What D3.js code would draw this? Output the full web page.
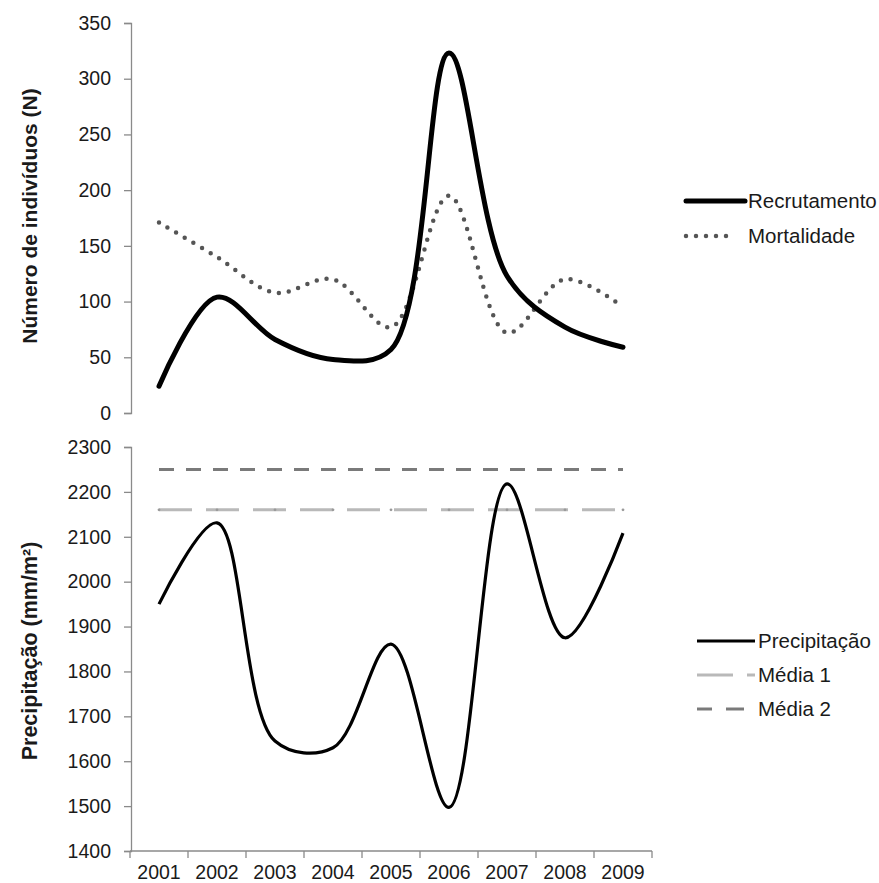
<!DOCTYPE html>
<html><head><meta charset="utf-8">
<script src="https://cdn.jsdelivr.net/npm/d3@7"></script>
<style>
body{margin:0;background:#fff;}
text{font-family:"Liberation Sans",Arial,sans-serif;fill:#1a1a1a;}
</style></head>
<body><svg id="c" width="879" height="883"></svg>
<script>
const years = ["2001","2002","2003","2004","2005","2006","2007","2008","2009"];
const recrutamento = [24,104,66,48,57,323,123,77,59];
const mortalidade = [171,140,108,120,77,195,72,120,95];
const precipitacao = [1950,2131,1645,1630,1861,1497,2218,1875,2108];
const media1 = 2160;
const media2 = 2250;
const topTicks = [0,50,100,150,200,250,300,350];
const bottomTicks = [1400,1500,1600,1700,1800,1900,2000,2100,2200,2300];

const svg = d3.select("#c");
const x = d3.scaleBand().domain(years).range([130,652]);
const cx = d => x(d) + x.bandwidth()/2;
const yTop = d3.scaleLinear().domain([0,350]).range([413,23]);
const yBot = d3.scaleLinear().domain([1400,2300]).range([851,447]);
const curve = d3.curveCatmullRom.alpha(0.5);
const FS = "19.5px";

function styleAxis(g){
  g.selectAll("path,line").attr("stroke","#8a8a8a").attr("stroke-width",1.3);
  g.selectAll("text").attr("font-size",FS).attr("fill","#1a1a1a");
}
// Top y axis
svg.append("g").attr("transform","translate(131,0)")
  .call(d3.axisLeft(yTop).tickValues(topTicks).tickFormat(d3.format("d")).tickSize(7).tickSizeOuter(7).tickPadding(13))
  .call(styleAxis);
// Bottom y axis
svg.append("g").attr("transform","translate(131,0)")
  .call(d3.axisLeft(yBot).tickValues(bottomTicks).tickFormat(d3.format("d")).tickSize(7).tickSizeOuter(7).tickPadding(13))
  .call(styleAxis);
// x axis
const xa = svg.append("g").attr("transform","translate(0,851)")
  .call(d3.axisBottom(x).tickSize(0).tickPadding(14))
  .call(styleAxis);
xa.select(".domain").attr("d","M130,0H652");
xa.selectAll(".bnd").data(years.concat(["end"])).enter().append("line")
  .attr("x1",(d,i)=> i<years.length ? x(d) : 652).attr("x2",(d,i)=> i<years.length ? x(d) : 652)
  .attr("y1",0).attr("y2",7).attr("stroke","#8a8a8a").attr("stroke-width",1.3);

// axis titles
svg.append("text").attr("transform","translate(37,216) rotate(-90)")
  .attr("text-anchor","middle").attr("font-size","21px").attr("font-weight","bold")
  .text("Número de indivíduos (N)");
svg.append("text").attr("transform","translate(37,651) rotate(-90)")
  .attr("text-anchor","middle").attr("font-size","21.5px").attr("font-weight","bold")
  .text("Precipitação (mm/m²)");

// Top lines
const lineTop = d3.line().x((d,i)=>cx(years[i])).y(d=>yTop(d)).curve(curve);
svg.append("path").datum(mortalidade).attr("d",lineTop).attr("fill","none")
  .attr("stroke","#555").attr("stroke-width",4.5).attr("stroke-linecap","round")
  .attr("stroke-dasharray","0,10");
svg.append("path").datum(recrutamento).attr("d",lineTop).attr("fill","none")
  .attr("stroke","#000").attr("stroke-width",5).attr("stroke-linecap","round").attr("stroke-linejoin","round");

// Bottom lines
const m1 = years.map(()=>media1), m2 = years.map(()=>media2);
const lineBot = d3.line().x((d,i)=>cx(years[i])).y(d=>yBot(d));
svg.append("path").datum(m2).attr("d",lineBot).attr("fill","none")
  .attr("stroke","#7a7a7a").attr("stroke-width",3).attr("stroke-dasharray","15,12");
svg.append("path").datum(m1).attr("d",lineBot).attr("fill","none")
  .attr("stroke","#b9b9b9").attr("stroke-width",3).attr("stroke-dasharray","33,14");
svg.selectAll(".m1dot").data(m1).enter().append("circle")
  .attr("cx",(d,i)=>cx(years[i])).attr("cy",d=>yBot(d)).attr("r",1.4).attr("fill","#999");
svg.append("path").datum(precipitacao).attr("d",lineBot.curve(curve)).attr("fill","none")
  .attr("stroke","#000").attr("stroke-width",3.2).attr("stroke-linejoin","round");

// Legends
function legLine(x1,x2,y,stroke,w,dash,cap){
  svg.append("line").attr("x1",x1).attr("x2",x2).attr("y1",y).attr("y2",y)
    .attr("stroke",stroke).attr("stroke-width",w)
    .attr("stroke-dasharray",dash||null).attr("stroke-linecap",cap||"butt");
}
function legText(xp,y,t){
  svg.append("text").attr("x",xp).attr("y",y).attr("dy","0.35em").attr("font-size","20.5px").text(t);
}
legLine(686,745,201,"#000",5,null,"round"); legText(748,201,"Recrutamento");
legLine(686,736,236,"#555",4.5,"0,10","round"); legText(748,236,"Mortalidade");
legLine(697,755,641,"#000",3.2); legText(758,641,"Precipitação");
legLine(697,733,675,"#b9b9b9",3); legLine(747,755,675,"#b9b9b9",3); legText(758,675,"Média 1");
legLine(697,712,709,"#7a7a7a",3); legLine(726,744,709,"#7a7a7a",3); legText(758,709,"Média 2");
</script></body></html>
